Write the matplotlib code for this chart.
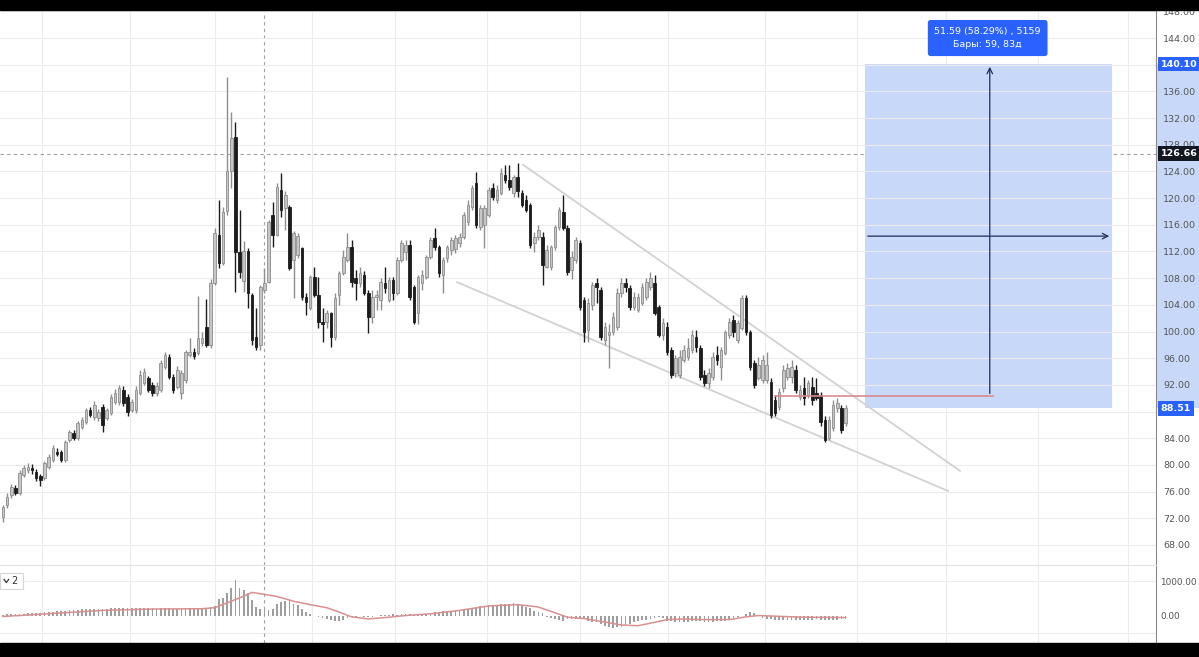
import numpy as np
import matplotlib
matplotlib.use("Agg")
import matplotlib.pyplot as plt
from matplotlib.patches import Rectangle

# candles (one per bar)
opens = [72.2, 74.0, 75.5, 76.5, 75.8, 78.5, 79.2, 79.5, 78.9, 78.3,
         78.0, 79.7, 80.7, 82.0, 81.9, 80.7, 83.7, 84.8, 84.0, 85.7,
         86.4, 88.2, 87.2, 87.0, 88.7, 87.0, 87.8, 89.4, 89.4, 91.2,
         90.2, 88.2, 88.2, 90.8, 92.3, 93.0, 92.0, 90.8, 91.2, 94.7,
         96.2, 93.2, 91.7, 90.8, 92.7, 96.5, 96.9, 96.8, 98.3, 100.7,
         98.0, 107.3, 114.5, 110.3, 118.0, 124.0, 129.2, 111.9, 107.5, 112.0,
         105.5, 99.2, 98.0, 106.2, 107.4, 117.5, 114.5, 121.2, 118.5, 118.7,
         110.7, 111.5, 112.5, 105.2, 103.5, 108.2, 105.5, 101.4, 101.4, 102.8,
         99.2, 105.5, 108.8, 110.7, 112.6, 108.0, 107.3, 108.5, 105.8, 102.2,
         105.2, 104.7, 107.3, 104.7, 107.7, 105.8, 110.7, 111.9, 113.0, 106.7,
         102.8, 107.3, 108.2, 111.2, 114.0, 112.6, 108.5, 111.0, 112.2, 112.3,
         113.3, 114.2, 116.4, 118.7, 122.3, 115.7, 116.0, 117.5, 121.5, 119.7,
         120.7, 123.5, 122.7, 120.7, 123.2, 120.7, 119.7, 119.0, 113.3, 114.2,
         114.2, 109.7, 109.7, 112.6, 115.7, 117.9, 115.5, 109.2, 110.7, 113.3,
         104.7, 100.2, 104.0, 107.3, 106.2, 98.7, 99.5, 99.9, 100.7, 105.8,
         107.3, 106.5, 103.7, 103.2, 104.3, 105.2, 106.7, 107.3, 103.7, 99.5,
         100.7, 97.2, 93.8, 93.5, 95.7, 96.2, 97.2, 99.2, 97.5, 93.5,
         92.3, 93.2, 96.5, 94.7, 96.8, 99.5, 101.7, 98.7, 100.5, 105.0,
         99.9, 95.3, 93.0, 92.7, 92.7, 92.4, 89.7, 88.7, 91.5, 93.2,
         93.2, 94.2, 90.2, 91.5, 90.5, 91.7, 90.8, 90.5, 86.7, 84.0,
         85.6, 88.5, 88.5, 86.3]
highs = [74.0, 75.8, 77.2, 77.0, 79.2, 80.0, 80.3, 80.2, 79.4, 78.6,
         80.6, 81.6, 83.0, 82.6, 82.2, 83.7, 85.3, 85.2, 86.6, 87.2,
         88.6, 88.7, 89.6, 88.4, 89.2, 88.6, 90.6, 91.4, 92.0, 91.8,
         90.6, 89.9, 91.8, 94.2, 94.6, 93.4, 92.4, 92.4, 95.7, 97.0,
         96.6, 93.6, 94.8, 94.2, 97.3, 99.1, 97.6, 105.4, 100.0, 104.9,
         107.8, 115.5, 119.7, 118.7, 138.2, 132.9, 131.4, 118.2, 113.5, 112.5,
         105.8, 103.5, 107.0, 109.5, 116.7, 119.4, 122.3, 123.8, 121.0, 119.0,
         115.0, 114.8, 112.7, 105.8, 108.5, 109.7, 108.2, 103.5, 103.2, 103.0,
         105.8, 109.0, 112.2, 114.8, 113.7, 109.2, 109.7, 109.0, 106.2, 106.2,
         106.2, 108.0, 109.7, 108.2, 108.2, 111.2, 113.7, 113.7, 113.7, 107.0,
         108.5, 109.2, 111.5, 114.2, 115.5, 112.9, 111.2, 112.9, 114.2, 114.5,
         114.8, 117.9, 119.7, 122.0, 123.9, 119.0, 119.0, 121.7, 122.3, 122.0,
         124.5, 125.0, 125.0, 123.5, 125.3, 121.2, 120.4, 119.3, 114.9, 115.9,
         114.9, 112.9, 113.0, 116.0, 118.7, 120.4, 116.0, 112.0, 114.2, 113.7,
         105.2, 105.0, 107.4, 108.0, 106.7, 101.4, 101.2, 102.9, 106.5, 108.0,
         108.0, 107.0, 106.0, 105.8, 107.3, 108.0, 108.9, 108.5, 104.0, 102.0,
         101.4, 97.7, 96.5, 97.2, 98.0, 99.0, 100.2, 100.2, 98.0, 94.2,
         94.5, 96.9, 97.9, 97.7, 100.2, 102.0, 102.5, 101.7, 105.5, 105.5,
         100.2, 95.7, 96.2, 96.5, 97.0, 93.0, 90.5, 91.5, 95.0, 95.3,
         95.7, 95.0, 92.0, 93.2, 92.7, 93.2, 93.0, 91.0, 87.4, 87.4,
         89.7, 90.0, 89.0, 89.0]
lows = [71.5, 73.5, 75.0, 75.5, 75.5, 78.2, 78.8, 78.6, 77.6, 76.9,
        77.8, 79.4, 80.4, 81.3, 80.4, 80.5, 83.5, 83.7, 83.7, 85.4,
        86.2, 87.2, 86.8, 86.6, 85.0, 86.7, 87.5, 89.1, 89.0, 88.9,
        87.3, 87.9, 87.8, 90.5, 92.0, 90.9, 90.4, 90.4, 91.0, 94.4,
        92.9, 90.8, 91.4, 89.9, 92.3, 96.2, 95.9, 96.5, 97.9, 97.7,
        97.6, 107.0, 109.5, 109.9, 117.5, 121.5, 105.9, 108.0, 106.0, 103.5,
        98.0, 97.2, 97.3, 105.8, 107.2, 112.6, 114.3, 117.2, 115.2, 109.2,
        105.0, 111.0, 104.7, 102.5, 103.2, 105.2, 100.6, 98.4, 100.6, 97.7,
        98.7, 104.0, 108.5, 110.4, 106.7, 104.7, 106.7, 105.5, 99.8, 101.3,
        103.2, 103.2, 105.8, 104.4, 104.7, 105.5, 110.4, 110.7, 104.7, 101.2,
        101.2, 106.3, 107.8, 110.9, 112.2, 108.2, 105.8, 110.4, 111.5, 111.8,
        112.6, 113.9, 115.9, 118.2, 115.5, 115.2, 112.5, 117.2, 119.7, 119.3,
        120.4, 122.2, 121.2, 120.2, 120.2, 118.7, 117.9, 112.5, 111.9, 113.7,
        107.0, 109.5, 109.2, 112.2, 115.2, 115.2, 108.5, 107.9, 110.2, 103.2,
        98.4, 98.4, 103.2, 104.3, 98.7, 98.0, 94.5, 99.5, 100.2, 105.2,
        106.0, 103.2, 103.2, 102.9, 104.0, 104.7, 106.2, 102.5, 99.2, 98.7,
        96.5, 93.0, 93.2, 93.0, 95.4, 95.7, 96.8, 96.9, 92.7, 91.8,
        91.5, 92.7, 95.0, 92.7, 96.5, 99.0, 99.2, 98.3, 100.2, 99.5,
        94.2, 91.5, 92.7, 92.3, 92.3, 87.0, 87.3, 88.2, 91.0, 92.7,
        92.3, 90.8, 89.7, 89.0, 90.0, 89.0, 89.8, 85.9, 83.4, 83.7,
        85.1, 87.9, 84.8, 85.9]
closes = [73.7, 75.2, 76.7, 75.8, 78.8, 79.5, 79.7, 79.2, 78.0, 77.7,
          80.3, 81.2, 82.5, 81.6, 80.7, 83.4, 84.9, 84.0, 86.3, 86.7,
          88.2, 87.5, 89.0, 87.9, 86.0, 88.2, 90.2, 90.8, 91.5, 89.3,
          87.9, 89.4, 91.2, 93.5, 93.9, 91.2, 90.8, 91.8, 95.3, 96.5,
          93.2, 91.2, 94.2, 93.8, 96.9, 96.9, 96.3, 99.0, 99.0, 98.0,
          107.3, 114.8, 110.3, 117.9, 124.0, 129.0, 111.9, 108.9, 112.0, 105.8,
          98.7, 97.7, 106.7, 107.3, 116.4, 114.5, 121.7, 118.2, 120.5, 109.5,
          114.8, 114.3, 105.2, 104.4, 108.2, 105.5, 101.4, 101.2, 102.8, 99.2,
          105.0, 108.8, 111.2, 112.6, 107.4, 107.3, 108.8, 105.8, 102.2, 105.2,
          105.5, 107.4, 106.5, 107.7, 105.8, 110.7, 113.3, 113.0, 105.2, 101.4,
          108.2, 108.5, 111.2, 113.7, 112.6, 108.8, 110.7, 112.6, 113.7, 114.0,
          114.2, 117.5, 119.0, 121.5, 116.0, 118.5, 118.5, 121.2, 120.2, 121.2,
          123.8, 122.7, 121.7, 123.2, 121.0, 119.0, 118.2, 113.0, 114.2, 115.2,
          110.0, 112.2, 112.6, 115.7, 118.2, 115.5, 108.9, 111.2, 113.7, 103.7,
          99.9, 104.3, 107.0, 106.7, 99.2, 100.7, 100.0, 102.2, 105.8, 107.3,
          106.7, 103.7, 105.2, 105.2, 106.7, 107.4, 108.0, 102.8, 99.5, 101.3,
          96.9, 93.5, 96.0, 96.2, 97.2, 97.5, 99.5, 97.7, 93.2, 92.3,
          93.8, 96.2, 95.7, 97.2, 99.9, 101.4, 99.9, 101.3, 105.0, 99.9,
          94.7, 92.0, 95.0, 95.7, 95.0, 87.5, 87.8, 91.0, 94.2, 94.5,
          94.7, 91.2, 91.2, 90.0, 92.3, 89.7, 90.0, 86.4, 83.7, 86.7,
          89.0, 89.3, 85.3, 88.5]

# oscillator pane
hist = [20, 30, 30, 40, 40, 50, 60, 60, 70,
        80, 90, 100, 110, 120, 130, 140, 150, 160, 170,
        180, 180, 190, 190, 200, 200, 200, 210, 210, 210,
        210, 220, 220, 210, 220, 220, 210, 210, 200, 210, 220, 210,
        200, 200, 210, 210, 210, 200, 210, 220, 220, 240, 270,
        500, 520, 650, 820, 1050, 800, 750, 650, 450, 250, 200, 150, 150,
        200, 350, 400, 420, 450, 350, 300, 200, 100, 50, 0, -50, -80, -100,
        -130, -150, -150, -120, -80, -50,
        -30, -20, -30, -40, -30, -10, 10, 20, 20, 30, 20, 30, 30,
        30, 20, 30, 30, 40, 50,
        90, 100, 120, 130, 140, 150, 150, 160,
        200, 210, 220,
        280, 290, 300, 310, 320, 330, 340, 350, 360, 340,
        300, 250, 210, 120, 90, 60,
        -30, -60, -90, -130, -150, -100, -90, -90, -100, -110,
        -170, -180, -190, -260, -300, -330, -360, -350, -330,
        -280, -240, -200, -170, -140, -120, -100, -60, -50, -70,
        -150, -170, -180, -190, -200, -190, -170, -160, -170, -190, -200, -190,
        -170, -160, -150, -130, -80, -50, 0, 30, 90, 60, 10,
        -80, -100, -110, -120, -130, -140, -130, -120, -120, -130, -140,
        -130, -120, -110, -120, -130, -140, -130, -120, -110, -100]
sig_bar = [0, 12, 24, 36, 48, 51, 55, 58, 60, 66, 70, 74, 78, 81, 84, 88, 92,
           97, 103, 110, 117, 124, 129, 133, 136, 140, 144, 149, 153, 157,
           160, 164, 168, 175, 179, 182, 186, 193, 203]
sig_val = [-30, 60, 150, 190, 200, 230, 420, 570, 680, 560, 420, 320, 230, 100,
           -40, -100, -60, 0, 50, 150, 280, 320, 250, 80, -50, -90, -170, -280,
           -300, -200, -120, -100, -120, -120, -40, 0, -20, -50, -60]

price_ticks = np.arange(68, 149, 4)
hidden_ticks = [140, 88]  # covered by the position labels
vgrid_bars = [9.4, 30.6, 51.1, 74.5, 94.5, 116.6, 139.0, 160.2, 183.6, 205.8, 227.2, 249.4, 271.0]

# drawings
upper_line = ([125.3, 230.6], [125.0, 79.1])
lower_line = ([109.4, 227.7], [107.4, 76.1])
box_x = [207.7, 267.2]
target_price = 140.10
entry_price = 88.51
mark_price = 126.66
stop_line = ([186.0, 238.5], [90.3, 90.3])
cross_bar = 62.9
box_text = "51.59 (58.29%) , 5159\nБары: 59, 83д"

fig = plt.figure(figsize=(11.99, 6.57), dpi=100)
fig.patch.set_facecolor("white")
ax = fig.add_axes([0, 1 - 565 / 657, 1156 / 1199, 555 / 657])
axm = fig.add_axes([0, 1 - 643 / 657, 1156 / 1199, 78 / 657])

xlim = (-0.72, 277.8)
grid_c = "#ececec"

# ---- price pane
x = np.arange(len(closes))
o = np.array(opens)
c = np.array(closes)
up = c >= o
ax.vlines(x[up], np.array(lows)[up], np.array(highs)[up], color="#8e8e8e", lw=1, zorder=3)
ax.vlines(x[~up], np.array(lows)[~up], np.array(highs)[~up], color="#1c1c1c", lw=1, zorder=3)
body = np.maximum(np.abs(c - o), 0.25)
ax.bar(x[up], body[up], bottom=np.minimum(o, c)[up], width=0.62,
       color="#c6c6c6", edgecolor="#8e8e8e", lw=0.6, zorder=4)
ax.bar(x[~up], body[~up], bottom=np.minimum(o, c)[~up], width=0.62,
       color="#1c1c1c", edgecolor="#1c1c1c", lw=0.6, zorder=4)

ax.set_xlim(*xlim)
ax.set_ylim(65.0, 148.2)
ax.set_yticks(price_ticks)
ax.set_yticklabels(["" if v in hidden_ticks else "%.2f" % v for v in price_ticks])
ax.set_xticks([])
ax.yaxis.tick_right()
ax.tick_params(axis="y", length=0, pad=5, labelsize=6.8, labelcolor="#555555")
ax.grid(axis="y", color=grid_c, lw=0.8, zorder=0)
for g in vgrid_bars:
    ax.axvline(g, color=grid_c, lw=0.8, zorder=0)
    axm.axvline(g, color=grid_c, lw=0.8, zorder=0)
for s in ["top", "left", "bottom"]:
    ax.spines[s].set_visible(False)
ax.spines["right"].set_color("#8a8a8a")

# wedge
ax.plot(*upper_line, color="#d2d2d2", lw=1.3, zorder=2)
ax.plot(*lower_line, color="#d2d2d2", lw=1.3, zorder=2)

# crosshair
ax.axvline(cross_bar, color="#a0a0a0", lw=0.8, ls=(0, (3, 3)), zorder=1)
axm.axvline(cross_bar, color="#a0a0a0", lw=0.8, ls=(0, (3, 3)), zorder=1)
ax.axhline(mark_price, color="#a0a0a0", lw=0.8, ls=(0, (3, 3)), zorder=1)

# long position box
ax.add_patch(Rectangle((box_x[0], entry_price), box_x[1] - box_x[0], target_price - entry_price,
                       facecolor="#c8d8f8", edgecolor="none", zorder=1))
ax.plot(*stop_line, color="#d98a8e", lw=1.2, zorder=5)
mid = (box_x[0] + box_x[1]) / 2 + 0.3
ax.annotate("", xy=(mid, target_price), xytext=(mid, stop_line[1][0]),
            arrowprops=dict(arrowstyle="->", color="#1f2d5c", lw=0.9), zorder=6)
ax.annotate("", xy=(box_x[1], 114.3), xytext=(box_x[0], 114.3),
            arrowprops=dict(arrowstyle="->", color="#1f2d5c", lw=0.9), zorder=6)
ax.text(mid - 0.5, 144.0, box_text, ha="center", va="center", fontsize=6.8, color="white",
        linespacing=1.7, zorder=7,
        bbox=dict(boxstyle="round,pad=0.7,rounding_size=0.3", fc="#2962ff", ec="none"))

# axis column highlights
yt = ax.get_yaxis_transform()
ax.add_patch(Rectangle((1.0, entry_price), 0.037, target_price - entry_price, transform=yt,
                       facecolor="#c8d8f8", edgecolor="none", clip_on=False, zorder=0.5))
for val, col in [(target_price, "#2962ff"), (mark_price, "#131722"), (entry_price, "#2962ff")]:
    ax.text(1.004, val, "%.2f" % val, transform=yt, ha="left", va="center", fontsize=6.8,
            color="white", fontweight="bold", clip_on=False, zorder=8,
            bbox=dict(boxstyle="square,pad=0.3", fc=col, ec="none"))

# ---- oscillator pane
axm.bar(np.arange(len(hist)), hist, width=0.42, color="#9e9e9e", zorder=3)
axm.plot(sig_bar, sig_val, color="#d99090", lw=1.1, zorder=4)
axm.set_xlim(*xlim)
axm.set_ylim(-808, 1485)
axm.set_yticks([1000, 0])
axm.set_yticklabels(["1000.00", "0.00"])
axm.set_xticks([])
axm.yaxis.tick_right()
axm.tick_params(axis="y", length=0, pad=3, labelsize=6.4, labelcolor="#555555")
axm.axhline(1000, color=grid_c, lw=0.8, zorder=0)
axm.axhline(-500, color=grid_c, lw=0.8, zorder=0)
for s in ["left", "bottom"]:
    axm.spines[s].set_visible(False)
axm.spines["top"].set_color("#e2e2e2")
axm.spines["right"].set_color("#8a8a8a")

# collapsed-indicators tag
axm.add_patch(Rectangle((0.0, 0.69), 0.02, 0.21, transform=axm.transAxes,
                        facecolor="white", edgecolor="#d5d5d5", lw=0.8, zorder=6))
axm.plot([0.0035, 0.0055, 0.0075], [0.815, 0.775, 0.815], transform=axm.transAxes,
         color="#333333", lw=0.9, zorder=7)
axm.text(0.0125, 0.795, "2", transform=axm.transAxes, fontsize=7, color="#333333",
         ha="center", va="center", zorder=7)

# screen borders
fig.add_artist(Rectangle((0, 1 - 10 / 657), 1, 10 / 657, transform=fig.transFigure,
                         color="black", zorder=100))
fig.add_artist(Rectangle((0, 0), 1, 14 / 657, transform=fig.transFigure,
                         color="black", zorder=100))

fig.savefig("out.png", dpi=100)
